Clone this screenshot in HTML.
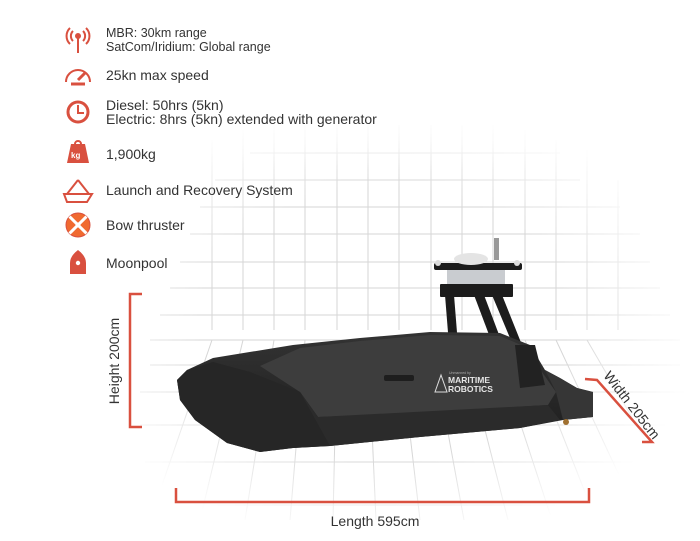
<!DOCTYPE html>
<html><head><meta charset="utf-8"><style>
html,body{margin:0;padding:0;background:#fff;}
body{width:700px;height:541px;overflow:hidden;position:relative;font-family:"Liberation Sans",sans-serif;}
.t{position:absolute;left:106px;font-size:14px;color:#333;line-height:14px;}
</style></head><body>
<svg width="700" height="541" style="position:absolute;left:0;top:0">
<defs>
<radialGradient id="fade" cx="0.48" cy="0.5" r="0.55">
<stop offset="0.55" stop-color="#fff" stop-opacity="0"/>
<stop offset="0.95" stop-color="#fff" stop-opacity="1"/>
</radialGradient>
<linearGradient id="topfade" x1="0" y1="0" x2="0" y2="1">
<stop offset="0" stop-color="#fff" stop-opacity="1"/><stop offset="1" stop-color="#fff" stop-opacity="0"/>
</linearGradient>
<linearGradient id="hull" x1="0" y1="0" x2="0" y2="1">
<stop offset="0" stop-color="#333"/><stop offset="1" stop-color="#1c1c1c"/>
</linearGradient>
</defs>
<g stroke="#d6d6d6" stroke-width="1">
<line x1="212" y1="140" x2="212" y2="330"/><line x1="243" y1="130" x2="243" y2="330"/>
<line x1="274" y1="125" x2="274" y2="330"/><line x1="305" y1="125" x2="305" y2="330"/>
<line x1="337" y1="125" x2="337" y2="330"/><line x1="368" y1="125" x2="368" y2="330"/>
<line x1="399" y1="125" x2="399" y2="330"/><line x1="431" y1="125" x2="431" y2="330"/>
<line x1="462" y1="125" x2="462" y2="330"/><line x1="493" y1="125" x2="493" y2="330"/>
<line x1="525" y1="130" x2="525" y2="330"/><line x1="556" y1="140" x2="556" y2="330"/>
<line x1="587" y1="150" x2="587" y2="330"/><line x1="618" y1="180" x2="618" y2="330"/>
<line x1="250" y1="153" x2="560" y2="153"/><line x1="215" y1="180" x2="580" y2="180"/>
<line x1="200" y1="207" x2="620" y2="207"/><line x1="190" y1="234" x2="640" y2="234"/>
<line x1="180" y1="262" x2="650" y2="262"/><line x1="170" y1="288" x2="660" y2="288"/>
<line x1="160" y1="315" x2="670" y2="315"/><line x1="150" y1="340" x2="680" y2="340"/>
<line x1="150" y1="365" x2="680" y2="365"/><line x1="140" y1="392" x2="690" y2="392"/>
<line x1="140" y1="425" x2="690" y2="425"/><line x1="145" y1="462" x2="680" y2="462"/>
<line x1="160" y1="505" x2="660" y2="505"/>
<line x1="212" y1="340" x2="150" y2="520"/><line x1="243" y1="340" x2="200" y2="520"/>
<line x1="274" y1="340" x2="245" y2="520"/><line x1="305" y1="340" x2="290" y2="520"/>
<line x1="337" y1="340" x2="333" y2="520"/><line x1="368" y1="340" x2="376" y2="520"/>
<line x1="399" y1="340" x2="420" y2="520"/><line x1="431" y1="340" x2="464" y2="520"/>
<line x1="462" y1="340" x2="508" y2="520"/><line x1="493" y1="340" x2="552" y2="520"/>
<line x1="525" y1="340" x2="596" y2="520"/><line x1="556" y1="340" x2="640" y2="520"/>
<line x1="587" y1="340" x2="680" y2="500"/>
</g>
<rect x="90" y="100" width="610" height="441" fill="url(#fade)"/>
<rect x="90" y="110" width="610" height="60" fill="url(#topfade)"/>
<!-- tower -->
<g fill="#1c1c1c">
<polygon points="445,295 454,295 458,345 449,345"/>
<polygon points="474,295 484,295 518,385 508,385"/>
<polygon points="492,295 502,295 528,360 520,362"/>
<rect x="440" y="284" width="73" height="13" rx="1"/>
<rect x="434" y="263" width="88" height="7" rx="2"/>
<rect x="447" y="270" width="58" height="14" fill="#c9ccd0"/>
<ellipse cx="471" cy="259" rx="17" ry="6" fill="#e4e4e4"/>
<rect x="494" y="238" width="5" height="22" fill="#999"/>
<circle cx="438" cy="263" r="3" fill="#ddd"/><circle cx="517" cy="263" r="3" fill="#ddd"/>
</g>
<!-- hull -->
<polygon points="177,380 187,370 213,358 293,345 360,338 430,332 500,333 530,345 545,370 560,378 577,388 593,392 593,417 563,420 520,428 420,437 330,446 293,448 260,452 227,443 195,420 180,400" fill="url(#hull)"/>
<polygon points="260,366 300,348 360,341 430,335 500,336 528,348 542,372 556,392 548,405 400,414 318,417 300,392" fill="#3d3d3d"/>
<polygon points="177,380 187,370 213,362 250,372 300,392 318,417 330,446 293,448 260,452 227,443 195,420 180,400" fill="#262626"/>
<polygon points="300,392 318,417 548,405 560,420 520,428 420,437 330,446" fill="#2b2b2b"/>
<polygon points="545,370 560,378 577,388 593,392 593,417 563,420 556,392" fill="#363636"/>
<polygon points="515,345 535,345 545,385 520,388" fill="#222"/>
<rect x="384" y="375" width="30" height="6" rx="2" fill="#1e1e1e"/>
<text x="448" y="383" fill="#e6e6e6" font-size="8.5" font-weight="bold" font-family="Liberation Sans">MARITIME</text>
<text x="448" y="392" fill="#e6e6e6" font-size="8.5" font-weight="bold" font-family="Liberation Sans">ROBOTICS</text>
<text x="449" y="374" fill="#aaa" font-size="3.5">Unmanned by</text>
<polygon points="441,375 435,392 447,392" fill="none" stroke="#ddd" stroke-width="1"/>
<circle cx="566" cy="422" r="3" fill="#a07030"/>
<!-- brackets -->
<g stroke="#d9503f" stroke-width="2.5" fill="none">
<polyline points="142,294 130,294 130,427 142,427"/>
<polyline points="176,488 176,502 589,502 589,488"/>
<polyline points="585,379 597,380 652,442 642,442"/>
</g>
<text x="375" y="526" font-size="14" fill="#333" text-anchor="middle" font-family="Liberation Sans">Length 595cm</text>
<text transform="translate(119,361) rotate(-90)" font-size="14" fill="#333" text-anchor="middle" font-family="Liberation Sans">Height 200cm</text>
<text transform="translate(628,408) rotate(52)" font-size="14" fill="#333" text-anchor="middle" font-family="Liberation Sans">Width 205cm</text>
<!-- icons -->
<g stroke="#d9503f" fill="none" stroke-width="2">
<line x1="78" y1="38" x2="78" y2="53"/><circle cx="78" cy="36" r="2" fill="#d9503f"/>
<path d="M73 31 a7 7 0 0 0 0 10 M83 31 a7 7 0 0 1 0 10 M70 28 a11 11 0 0 0 0 16 M86 28 a11 11 0 0 1 0 16"/>
<path d="M66 82 a12 12 0 1 1 24 0"/><line x1="78" y1="80" x2="85" y2="73" stroke-width="3"/><line x1="71" y1="84" x2="85" y2="84" stroke-width="3"/>
<circle cx="78" cy="112" r="10" stroke-width="3"/><polyline points="78,105 78,113 84,113"/>
<path d="M64 194 h28 l-5 8 h-20 z M78 180 l-11 14 M78 180 l11 14"/>
</g>
<path d="M71 144 h14 l4 19 h-22 z" fill="#d9503f"/><circle cx="78" cy="144" r="3" fill="none" stroke="#d9503f" stroke-width="2"/><text x="71" y="158" font-size="8" fill="#fff" font-weight="bold">kg</text>
<circle cx="78" cy="225" r="12" fill="#f06a30" stroke="#d9503f"/>
<circle cx="78" cy="225" r="2.5" fill="#fff"/>
<g transform="rotate(45 78 225)" fill="#fff"><rect x="76.5" y="213" width="3" height="24"/><rect x="66" y="223.5" width="24" height="3"/></g>
<path d="M78 250 q8 6 8 13 v11 h-16 v-11 q0-7 8-13z" fill="#d9503f"/><circle cx="78" cy="263" r="2.2" fill="#fff"/>
</svg>
<div class="t" style="top:26px;font-size:12.5px">MBR: 30km range<br>SatCom/Iridium: Global range</div>
<div class="t" style="top:68px">25kn max speed</div>
<div class="t" style="top:98px">Diesel: 50hrs (5kn)<br>Electric: 8hrs (5kn) extended with generator</div>
<div class="t" style="top:147px">1,900kg</div>
<div class="t" style="top:183px">Launch and Recovery System</div>
<div class="t" style="top:218px">Bow thruster</div>
<div class="t" style="top:256px">Moonpool</div>
</body></html>
